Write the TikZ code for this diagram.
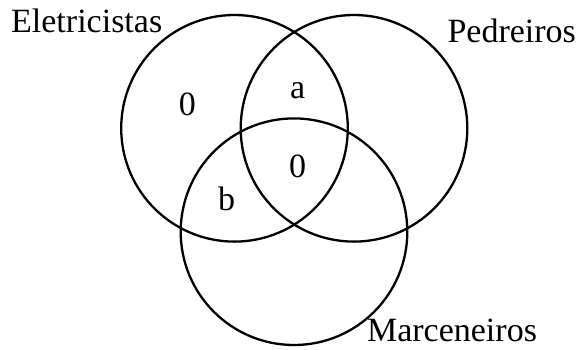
\documentclass[tikz,border=0pt]{standalone}
\usepackage{fontspec}
\setmainfont{Liberation Serif}
\begin{document}
\begin{tikzpicture}[x=1pt,y=-1pt,
  setcircle/.style={circle,draw=black,line width=2.3pt,minimum size=226.6pt,inner sep=0pt},
  setlabel/.style={inner sep=0pt,font=\fontsize{34}{40}\selectfont},
  regionlabel/.style={inner sep=0pt,anchor=base,font=\fontsize{34}{40}\selectfont}]
\useasboundingbox (0,0) rectangle (580,349);
\node[setcircle] (E) at (234.5,128.3) {};
\node[setcircle] (P) at (354,128.3) {};
\node[setcircle] (M) at (294,231.7) {};
\node[setlabel,anchor=base] (lE) at (86.7,32.3) {Eletricistas};
\node[setlabel,anchor=base] (lP) at (511.7,42.7) {Pedreiros};
\node[setlabel,anchor=base] (lM) at (452,341) {Marceneiros};
\node[regionlabel] (r1) at (187.3,115) {0};
\node[regionlabel] (r2) at (297.7,98.3) {a};
\node[regionlabel] (r3) at (297.7,177.3) {0};
\node[regionlabel] (r4) at (226.7,210.7) {b};
\end{tikzpicture}
\end{document}
